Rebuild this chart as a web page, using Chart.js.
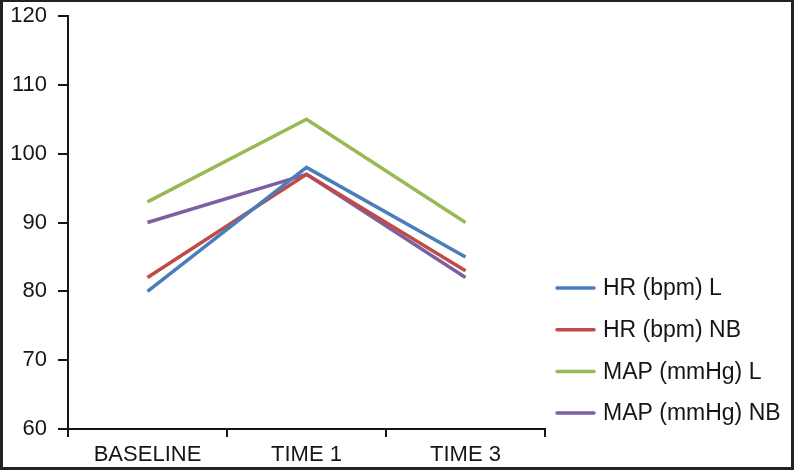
<!DOCTYPE html>
<html>
<head>
<meta charset="utf-8">
<script src="https://cdn.jsdelivr.net/npm/chart.js@4/dist/chart.umd.min.js"></script>
<style>
  html, body { margin: 0; padding: 0; background: #fff; }
  #wrap { position: relative; width: 794px; height: 470px; }
  canvas { display: block; }
</style>
</head>
<body>
<div id="wrap"><canvas id="c" width="794" height="470"></canvas></div>
<script>
const categories = ['BASELINE', 'TIME 1', 'TIME 3'];
const seriesNames = ['HR (bpm) L', 'HR (bpm) NB', 'MAP (mmHg) L', 'MAP (mmHg) NB'];
const hrL = [80, 98, 85];
const hrNB = [82, 97, 83];
const mapL = [93, 105, 90];
const mapNB = [90, 97, 82];
const yTicks = [60, 70, 80, 90, 100, 110, 120];

const colors = ['#4A7EBB', '#BE4B48', '#98B954', '#7D60A0'];
const values = [hrL, hrNB, mapL, mapNB];
const AX = '#161616';
const FONT = "'Liberation Sans', Arial, Helvetica, sans-serif";

const legendPlugin = {
  id: 'customLegend',
  afterDraw(chart) {
    const ctx = chart.ctx;
    ctx.save();
    chart.data.datasets.forEach((ds, i) => {
      const y = 288 + i * 41.7;
      ctx.strokeStyle = ds.borderColor;
      ctx.lineWidth = 3.5;
      ctx.lineCap = 'round';
      ctx.beginPath();
      ctx.moveTo(557, y);
      ctx.lineTo(594, y);
      ctx.stroke();
      ctx.fillStyle = AX;
      ctx.font = '23px ' + FONT;
      ctx.textBaseline = 'middle';
      ctx.textAlign = 'left';
      ctx.fillText(ds.label, 603, y + 1);
    });
    // frame
    ctx.fillStyle = '#222';
    ctx.fillRect(0, 0, 794, 2);
    ctx.fillRect(0, 0, 3, 470);
    ctx.fillRect(791, 0, 3, 470);
    ctx.fillRect(0, 467, 794, 3);
    ctx.restore();
  }
};

new Chart(document.getElementById('c'), {
  type: 'line',
  data: {
    labels: categories,
    datasets: seriesNames.map((n, i) => ({
      label: n,
      data: values[i],
      borderColor: colors[i],
      backgroundColor: colors[i],
      borderWidth: 3.5,
      pointRadius: 0,
      tension: 0,
      fill: false
    }))
  },
  options: {
    responsive: false,
    animation: false,
    events: [],
    layout: { padding: { top: 16, right: 249, bottom: 0, left: 0 } },
    plugins: { legend: { display: false }, tooltip: { enabled: false } },
    scales: {
      x: {
        type: 'category',
        offset: true,
        afterFit(s) { s.height = 41; s.paddingLeft = 0; s.paddingRight = 0; },
        grid: { offset: true, drawOnChartArea: false, drawTicks: true, tickLength: 8, color: AX, lineWidth: 2 },
        border: { display: true, color: AX, width: 2 },
        ticks: { color: AX, font: { family: FONT, size: 22 }, padding: 5, maxRotation: 0 }
      },
      y: {
        min: 60,
        max: 120,
        afterFit(s) { s.width = 68; s.paddingTop = 0; s.paddingBottom = 0; },
        afterBuildTicks(s) { s.ticks = yTicks.map(v => ({ value: v })); },
        grid: { drawOnChartArea: false, drawTicks: true, tickLength: 10, color: AX, lineWidth: 2 },
        border: { display: true, color: AX, width: 2 },
        ticks: { color: AX, font: { family: FONT, size: 22 }, padding: 11 }
      }
    }
  },
  plugins: [legendPlugin]
});
</script>
</body>
</html>
